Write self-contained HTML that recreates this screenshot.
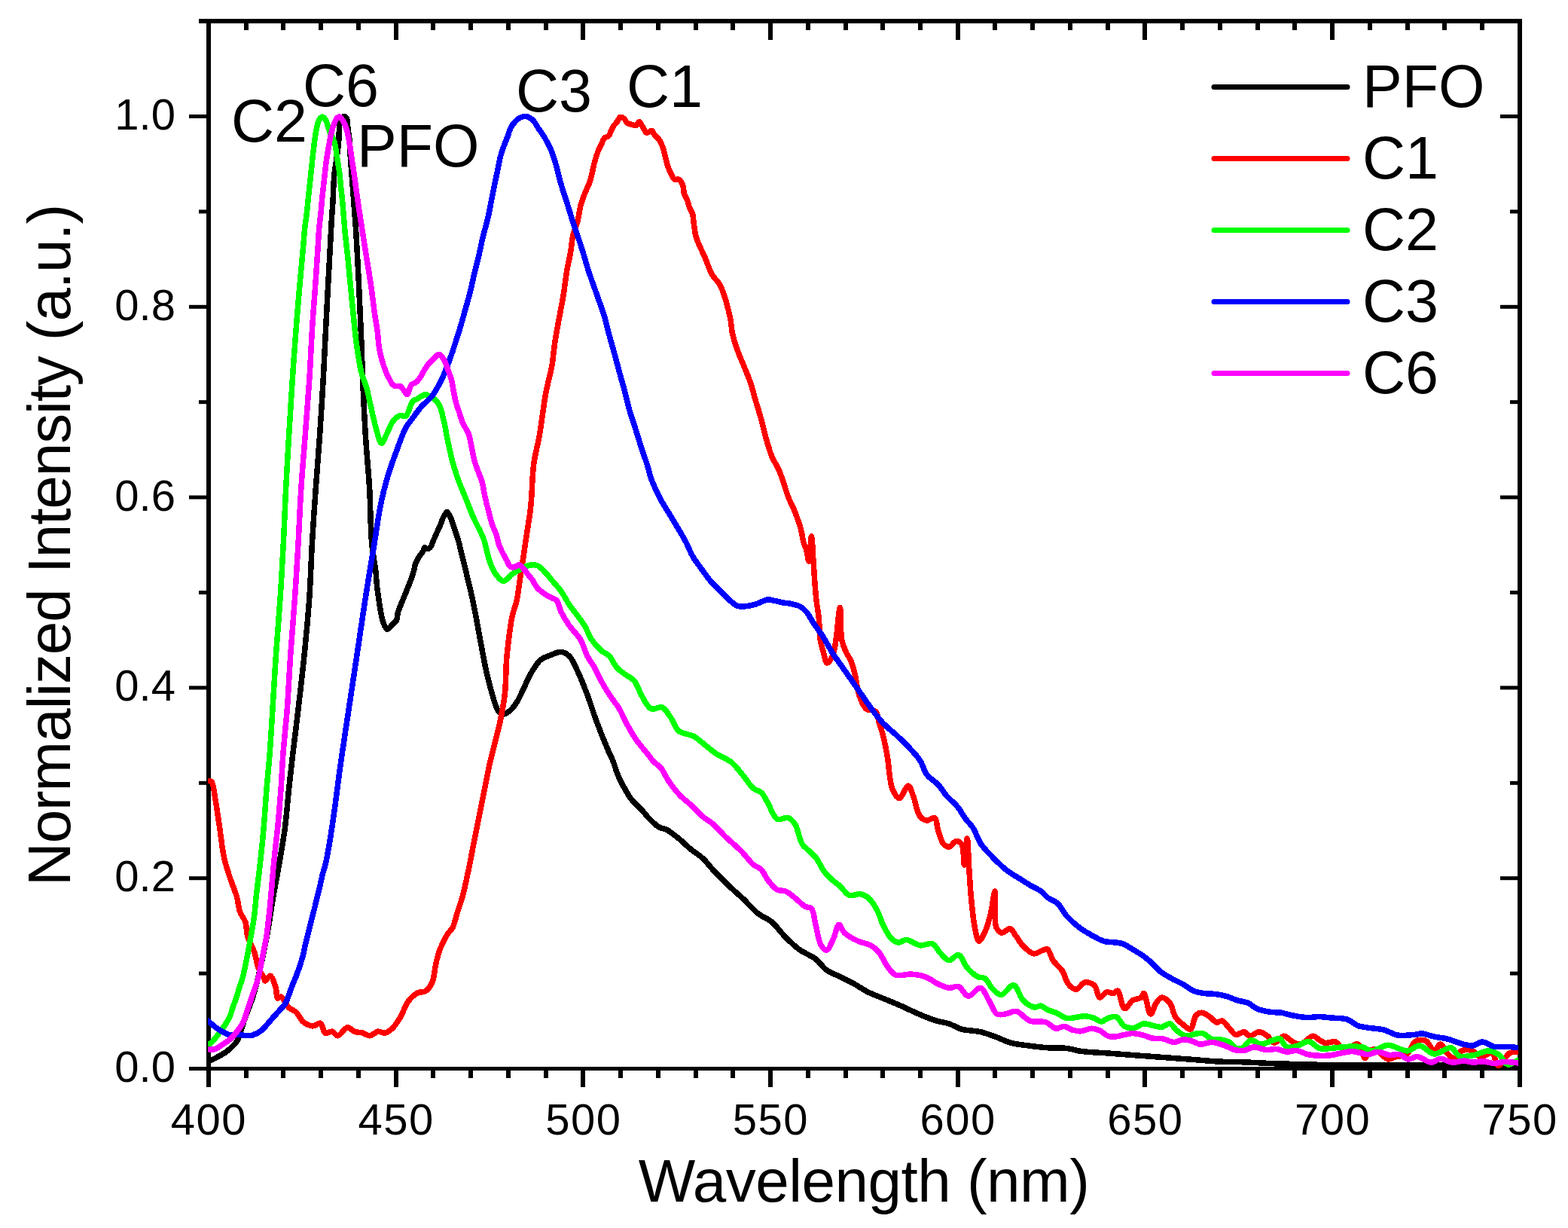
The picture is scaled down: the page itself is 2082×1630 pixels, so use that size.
<!DOCTYPE html>
<html><head><meta charset="utf-8"><title>Normalized PL spectra</title>
<style>html,body{margin:0;padding:0;background:#fff;overflow:hidden}svg{display:block}</style>
</head><body>
<svg xmlns="http://www.w3.org/2000/svg" width="2082" height="1630" viewBox="0 0 2082 1630" font-family="'Liberation Sans', Arial, sans-serif" fill="#000">
<defs><clipPath id="pc"><rect x="276" y="28" width="1740" height="1392"/></clipPath></defs>
<rect width="2082" height="1630" fill="#fff"/>
<g fill="#000">
<rect x="264" y="25" width="1757" height="6"/>
<rect x="251" y="1416" width="1770" height="5"/>
<rect x="274" y="25" width="6" height="1418"/>
<rect x="2015" y="25" width="6" height="1418"/>
<rect x="274" y="1421" width="6" height="22"/>
<rect x="274" y="31" width="6" height="22"/>
<rect x="324" y="1421" width="6" height="10"/>
<rect x="324" y="31" width="6" height="9"/>
<rect x="373" y="1421" width="6" height="10"/>
<rect x="373" y="31" width="6" height="9"/>
<rect x="423" y="1421" width="6" height="10"/>
<rect x="423" y="31" width="6" height="9"/>
<rect x="473" y="1421" width="6" height="10"/>
<rect x="473" y="31" width="6" height="9"/>
<rect x="523" y="1421" width="6" height="22"/>
<rect x="523" y="31" width="6" height="22"/>
<rect x="572" y="1421" width="6" height="10"/>
<rect x="572" y="31" width="6" height="9"/>
<rect x="622" y="1421" width="6" height="10"/>
<rect x="622" y="31" width="6" height="9"/>
<rect x="672" y="1421" width="6" height="10"/>
<rect x="672" y="31" width="6" height="9"/>
<rect x="722" y="1421" width="6" height="10"/>
<rect x="722" y="31" width="6" height="9"/>
<rect x="771" y="1421" width="6" height="22"/>
<rect x="771" y="31" width="6" height="22"/>
<rect x="821" y="1421" width="6" height="10"/>
<rect x="821" y="31" width="6" height="9"/>
<rect x="871" y="1421" width="6" height="10"/>
<rect x="871" y="31" width="6" height="9"/>
<rect x="921" y="1421" width="6" height="10"/>
<rect x="921" y="31" width="6" height="9"/>
<rect x="970" y="1421" width="6" height="10"/>
<rect x="970" y="31" width="6" height="9"/>
<rect x="1020" y="1421" width="6" height="22"/>
<rect x="1020" y="31" width="6" height="22"/>
<rect x="1070" y="1421" width="6" height="10"/>
<rect x="1070" y="31" width="6" height="9"/>
<rect x="1120" y="1421" width="6" height="10"/>
<rect x="1120" y="31" width="6" height="9"/>
<rect x="1169" y="1421" width="6" height="10"/>
<rect x="1169" y="31" width="6" height="9"/>
<rect x="1219" y="1421" width="6" height="10"/>
<rect x="1219" y="31" width="6" height="9"/>
<rect x="1269" y="1421" width="6" height="22"/>
<rect x="1269" y="31" width="6" height="22"/>
<rect x="1318" y="1421" width="6" height="10"/>
<rect x="1318" y="31" width="6" height="9"/>
<rect x="1368" y="1421" width="6" height="10"/>
<rect x="1368" y="31" width="6" height="9"/>
<rect x="1418" y="1421" width="6" height="10"/>
<rect x="1418" y="31" width="6" height="9"/>
<rect x="1468" y="1421" width="6" height="10"/>
<rect x="1468" y="31" width="6" height="9"/>
<rect x="1517" y="1421" width="6" height="22"/>
<rect x="1517" y="31" width="6" height="22"/>
<rect x="1567" y="1421" width="6" height="10"/>
<rect x="1567" y="31" width="6" height="9"/>
<rect x="1617" y="1421" width="6" height="10"/>
<rect x="1617" y="31" width="6" height="9"/>
<rect x="1667" y="1421" width="6" height="10"/>
<rect x="1667" y="31" width="6" height="9"/>
<rect x="1716" y="1421" width="6" height="10"/>
<rect x="1716" y="31" width="6" height="9"/>
<rect x="1766" y="1421" width="6" height="22"/>
<rect x="1766" y="31" width="6" height="22"/>
<rect x="1816" y="1421" width="6" height="10"/>
<rect x="1816" y="31" width="6" height="9"/>
<rect x="1866" y="1421" width="6" height="10"/>
<rect x="1866" y="31" width="6" height="9"/>
<rect x="1915" y="1421" width="6" height="10"/>
<rect x="1915" y="31" width="6" height="9"/>
<rect x="1965" y="1421" width="6" height="10"/>
<rect x="1965" y="31" width="6" height="9"/>
<rect x="2015" y="1421" width="6" height="22"/>
<rect x="2015" y="31" width="6" height="22"/>
<rect x="251" y="1416.0" width="23" height="5"/>
<rect x="1992" y="1416.0" width="23" height="5"/>
<rect x="264" y="1289.6" width="10" height="5"/>
<rect x="2005" y="1289.6" width="10" height="5"/>
<rect x="251" y="1163.2" width="23" height="5"/>
<rect x="1992" y="1163.2" width="23" height="5"/>
<rect x="264" y="1036.8" width="10" height="5"/>
<rect x="2005" y="1036.8" width="10" height="5"/>
<rect x="251" y="910.4" width="23" height="5"/>
<rect x="1992" y="910.4" width="23" height="5"/>
<rect x="264" y="784.0" width="10" height="5"/>
<rect x="2005" y="784.0" width="10" height="5"/>
<rect x="251" y="657.6" width="23" height="5"/>
<rect x="1992" y="657.6" width="23" height="5"/>
<rect x="264" y="531.2" width="10" height="5"/>
<rect x="2005" y="531.2" width="10" height="5"/>
<rect x="251" y="404.8" width="23" height="5"/>
<rect x="1992" y="404.8" width="23" height="5"/>
<rect x="264" y="278.4" width="10" height="5"/>
<rect x="2005" y="278.4" width="10" height="5"/>
<rect x="251" y="152.0" width="23" height="5"/>
<rect x="1992" y="152.0" width="23" height="5"/>
<rect x="264" y="25.6" width="10" height="5"/>
<rect x="2005" y="25.6" width="10" height="5"/>
</g>
<g clip-path="url(#pc)">
<path d="M278.0,1408.5C281.6,1406.7 285.1,1405.1 288.7,1403.1C292.4,1401.1 296.3,1399.0 299.8,1396.5C303.2,1394.1 306.6,1391.2 309.3,1388.4C311.6,1386.0 313.3,1384.5 315.2,1381.0C318.7,1374.7 321.7,1361.4 325.1,1351.9C328.4,1342.7 332.3,1334.0 335.2,1324.9C338.1,1316.0 340.0,1308.5 342.6,1297.9C346.2,1283.1 350.7,1262.0 354.1,1244.0C357.5,1226.0 360.0,1206.9 362.9,1190.0C365.5,1174.9 368.1,1162.0 370.6,1147.2C373.3,1131.4 376.4,1114.6 378.5,1098.2C380.6,1081.9 381.7,1065.5 383.4,1049.1C385.1,1032.7 386.9,1017.1 388.9,1000.0C391.1,981.2 393.7,961.6 396.1,940.8C398.8,917.6 401.8,891.7 404.3,867.2C406.7,842.7 409.1,818.1 410.8,793.6C412.5,769.1 413.1,744.1 414.5,720.0C415.9,696.6 417.4,674.2 419.1,650.8C420.8,626.6 422.9,601.7 424.6,577.2C426.3,552.7 427.8,528.1 429.2,503.6C430.6,479.1 431.7,452.3 432.9,430.0C433.9,411.5 434.6,397.6 435.6,379.2C436.8,357.3 438.6,323.6 439.5,307.1C440.0,298.5 440.2,294.0 440.6,287.4C441.0,280.9 441.6,274.3 442.0,267.8C442.4,261.3 442.4,254.7 442.8,248.2C443.2,241.6 443.5,235.0 444.2,228.5C444.9,221.9 446.3,215.4 447.2,208.9C448.1,202.4 449.1,195.1 449.6,189.3C450.0,184.7 450.0,181.2 450.2,177.0C450.4,172.7 450.3,167.6 451.0,164.0C451.5,161.4 452.1,159.1 453.2,157.5C454.1,156.2 455.6,154.6 456.8,154.6C457.9,154.6 459.4,155.6 460.2,157.0C461.7,159.4 461.3,164.9 461.9,169.6C462.7,175.4 463.8,182.7 464.4,189.3C465.0,195.8 464.9,202.4 465.3,208.9C465.7,215.4 466.3,222.0 466.8,228.5C467.3,235.1 467.8,241.6 468.3,248.2C468.8,254.7 469.3,261.3 469.8,267.8C470.3,274.3 470.7,280.9 471.2,287.4C471.7,294.0 472.2,299.7 472.7,307.1C473.3,316.5 473.9,328.0 474.5,339.3C475.2,351.7 475.9,365.4 476.5,378.5C477.1,391.6 477.7,404.7 478.3,417.8C478.9,430.9 479.5,443.4 480.0,457.0C480.6,471.9 480.9,486.3 481.6,503.6C482.5,525.3 483.8,552.7 485.3,577.2C486.8,601.7 489.4,626.6 490.8,650.8C492.1,674.2 491.8,700.1 493.6,720.0C494.9,735.2 498.1,750.8 499.1,760.0C499.6,764.8 499.6,767.3 499.9,771.0C500.2,774.7 500.5,778.4 501.0,782.1C501.4,785.8 502.1,789.4 502.6,793.1C503.1,796.8 503.6,800.5 504.2,804.2C504.8,807.9 505.3,811.5 506.1,815.2C506.9,818.9 507.6,822.9 509.0,826.3C510.3,829.6 512.0,835.2 514.1,835.5C516.2,835.8 519.6,830.2 521.8,828.0C523.5,826.3 525.2,825.6 526.3,823.6C527.8,820.9 527.5,815.9 528.5,812.5C529.4,809.4 530.5,806.9 531.8,803.7C533.4,799.7 535.6,794.6 537.3,790.4C538.9,786.6 540.2,783.1 541.7,779.4C543.2,775.7 544.8,772.0 546.1,768.3C547.4,764.6 548.5,760.8 549.5,757.3C550.4,754.2 550.6,751.4 551.7,748.5C552.8,745.5 554.4,742.4 556.1,739.6C557.7,736.9 560.3,734.3 561.6,731.9C562.6,730.0 562.9,726.8 563.8,726.6C564.4,726.5 565.0,728.4 566.0,728.6C567.4,728.8 570.1,727.8 571.5,726.4C573.2,724.8 573.7,721.4 574.9,718.7C576.3,715.6 577.7,712.2 579.3,708.7C581.0,704.9 583.1,700.6 584.8,696.6C586.4,692.8 587.6,688.5 589.2,685.5C590.4,683.2 592.3,680.7 593.0,679.8C593.2,679.5 593.3,679.3 593.5,679.3C594.3,679.4 596.6,683.5 597.9,686.1C599.4,689.2 600.5,693.2 601.8,696.9C603.1,700.7 604.5,704.7 605.8,708.7C607.1,712.9 608.6,717.2 609.7,721.5C610.8,725.7 611.6,730.1 612.6,734.2C613.6,738.2 614.6,742.1 615.6,746.0C616.6,749.9 617.5,753.8 618.5,757.8C619.5,762.0 620.5,766.3 621.5,770.5C622.5,774.5 623.4,778.3 624.4,782.3C625.4,786.5 626.3,790.2 627.3,795.0C628.7,801.4 630.2,809.2 631.8,817.5C633.8,827.7 636.0,840.4 638.1,851.8C640.3,863.3 642.2,874.8 644.7,886.2C647.2,897.7 650.3,910.3 653.3,920.5C655.8,928.8 657.9,938.3 661.0,942.9C662.8,945.6 664.7,947.6 667.0,948.0C669.5,948.4 672.8,946.6 675.6,944.6C679.2,942.0 682.7,937.4 685.9,932.6C689.7,926.8 693.0,918.6 696.2,912.0C699.1,906.0 701.1,900.5 704.4,894.8C708.0,888.6 712.4,880.6 717.3,876.4C721.2,873.0 725.7,871.8 730.2,870.0C734.9,868.1 740.4,865.0 744.9,865.4C748.9,865.7 752.6,867.8 755.9,870.9C760.4,875.2 763.4,883.5 767.0,891.1C771.4,900.3 775.8,911.5 779.9,922.4C784.3,934.1 788.1,947.0 792.7,959.2C797.3,971.5 803.5,986.7 807.5,996.0C810.0,1001.8 811.9,1005.0 813.9,1010.0C816.2,1015.7 817.7,1022.3 820.3,1028.4C822.9,1034.6 826.3,1041.1 829.5,1046.8C832.4,1052.1 835.1,1056.9 838.7,1061.5C842.4,1066.2 847.5,1070.0 851.6,1074.4C855.5,1078.6 858.7,1083.3 862.7,1087.3C866.7,1091.3 871.4,1096.0 875.6,1098.3C878.7,1100.0 881.4,1099.4 884.8,1101.1C889.7,1103.5 895.9,1108.8 901.3,1113.1C906.9,1117.6 912.4,1123.4 917.9,1127.8C922.9,1131.8 927.8,1134.4 932.6,1138.8C938.2,1143.9 943.4,1151.1 949.2,1157.2C955.1,1163.4 961.3,1169.5 967.6,1175.6C974.1,1181.8 981.3,1187.8 987.8,1194.0C994.1,1200.1 999.8,1207.3 1006.2,1212.4C1012.1,1217.0 1018.8,1218.9 1024.6,1223.7C1031.1,1229.1 1036.7,1237.6 1042.9,1243.8C1048.8,1249.7 1054.5,1255.4 1061.1,1260.2C1067.8,1265.1 1076.7,1268.1 1083.0,1273.0C1088.7,1277.4 1092.1,1283.6 1097.6,1287.6C1103.1,1291.5 1109.8,1293.6 1115.9,1296.7C1122.0,1299.7 1128.1,1302.6 1134.1,1305.9C1140.3,1309.3 1145.9,1313.5 1152.4,1316.8C1159.3,1320.2 1167.0,1322.9 1174.3,1325.9C1181.6,1329.0 1188.8,1331.8 1196.2,1335.1C1204.0,1338.5 1211.9,1342.6 1219.9,1346.0C1227.7,1349.3 1236.4,1352.9 1243.6,1355.1C1249.5,1356.9 1254.6,1357.0 1260.0,1358.8C1265.6,1360.6 1270.3,1364.3 1276.5,1366.1C1283.9,1368.2 1293.9,1367.8 1302.0,1369.7C1309.7,1371.5 1317.0,1374.5 1323.9,1377.0C1330.3,1379.3 1335.6,1382.5 1342.2,1384.3C1349.5,1386.3 1358.0,1386.9 1365.9,1388.0C1373.8,1389.1 1381.4,1390.1 1389.6,1390.7C1398.3,1391.3 1408.4,1390.5 1416.5,1391.5C1423.2,1392.3 1427.6,1394.3 1434.8,1395.3C1444.8,1396.7 1459.1,1397.1 1471.3,1398.0C1483.5,1398.9 1495.6,1399.9 1507.8,1400.8C1520.0,1401.7 1532.1,1402.6 1544.3,1403.5C1556.5,1404.4 1568.6,1405.3 1580.8,1406.2C1593.0,1407.1 1605.1,1408.4 1617.3,1409.0C1629.5,1409.6 1641.6,1409.5 1653.8,1409.9C1666.0,1410.4 1678.1,1411.2 1690.3,1411.7C1702.5,1412.1 1715.0,1412.3 1726.8,1412.6C1738.0,1412.9 1746.0,1413.3 1759.6,1413.5C1782.3,1413.9 1815.3,1413.9 1850.0,1414.0C1897.0,1414.2 1960.7,1414.3 2016.0,1414.5" fill="none" stroke="#000000" stroke-width="7.5" stroke-linejoin="round" stroke-linecap="round" shape-rendering="crispEdges"/>
<path d="M278.0,1036.7C279.0,1037.0 280.1,1036.6 281.0,1037.6C283.7,1040.6 284.9,1055.3 286.6,1065.2C288.6,1076.6 290.3,1089.7 292.1,1102.0C293.9,1114.3 295.1,1127.5 297.6,1138.8C299.8,1148.8 303.0,1157.8 305.9,1166.6C308.6,1174.8 312.1,1182.4 314.3,1190.0C316.3,1196.9 316.5,1204.3 318.6,1210.2C320.4,1215.3 324.0,1218.6 325.7,1223.7C327.7,1229.6 327.1,1237.4 329.1,1244.0C331.1,1250.9 335.6,1257.4 337.9,1264.2C340.2,1270.8 340.6,1278.5 342.9,1284.4C344.9,1289.5 348.8,1294.7 350.4,1297.9C351.2,1299.6 351.1,1301.8 352.1,1302.0C353.5,1302.3 356.7,1294.8 358.8,1295.2C361.6,1295.7 364.6,1306.1 366.2,1311.4C367.6,1316.0 366.6,1323.8 368.5,1324.9C369.6,1325.6 371.4,1322.7 373.1,1323.2C376.3,1324.2 380.2,1334.5 384.1,1338.0C387.0,1340.7 390.5,1340.9 393.3,1343.5C396.7,1346.6 398.7,1353.2 402.5,1356.3C406.1,1359.2 411.3,1361.8 415.4,1361.9C419.0,1362.0 422.8,1357.1 425.5,1358.2C428.6,1359.4 428.8,1369.6 431.9,1371.1C434.4,1372.3 438.3,1368.6 441.1,1369.2C443.9,1369.8 445.7,1374.9 448.5,1374.8C452.2,1374.7 457.3,1364.0 461.4,1363.7C464.6,1363.4 467.3,1368.0 470.6,1369.2C474.0,1370.5 478.1,1370.1 481.6,1371.1C484.9,1372.0 487.6,1374.9 490.8,1374.8C494.4,1374.6 498.3,1369.7 501.9,1369.2C505.0,1368.8 508.1,1371.6 511.1,1371.1C514.3,1370.6 517.4,1368.3 520.3,1365.6C524.2,1362.1 527.9,1356.4 531.3,1350.8C535.3,1344.3 537.9,1334.5 542.4,1328.7C546.1,1323.9 551.0,1319.7 555.2,1317.7C558.3,1316.2 561.6,1317.6 564.4,1315.9C567.9,1313.8 571.3,1309.7 573.6,1304.8C576.9,1297.9 577.1,1285.4 579.2,1277.2C580.9,1270.4 582.3,1264.8 584.7,1258.8C587.2,1252.6 590.8,1245.4 593.9,1240.4C596.3,1236.6 599.2,1234.7 601.2,1230.8C603.7,1225.9 604.8,1219.1 606.8,1212.8C609.1,1205.6 611.8,1198.3 614.1,1190.0C616.8,1180.2 619.1,1168.8 621.5,1157.6C624.1,1145.6 626.4,1132.8 628.9,1120.4C631.3,1108.1 633.8,1095.9 636.2,1083.6C638.7,1071.3 641.2,1058.7 643.6,1046.8C645.8,1035.7 647.6,1025.5 650.1,1014.4C652.8,1002.5 656.8,987.6 659.3,977.6C661.0,970.7 662.1,967.1 663.6,960.0C665.8,949.5 668.9,934.0 670.4,920.5C671.9,906.5 671.6,890.1 672.5,877.6C673.2,867.9 674.0,861.0 675.1,851.8C676.4,841.2 678.0,827.4 680.2,817.5C681.9,809.7 684.7,803.8 686.2,797.0C687.7,790.4 688.2,783.9 689.2,777.4C690.2,770.9 691.1,764.3 692.1,757.8C693.1,751.2 694.1,744.7 695.1,738.1C696.1,731.6 697.0,725.0 698.0,718.5C699.0,712.0 700.0,705.4 701.0,698.9C702.0,692.4 703.1,685.9 703.9,679.3C704.7,672.8 705.3,666.2 705.8,659.6C706.3,653.1 706.3,647.0 706.8,640.0C707.3,631.9 707.7,623.4 709.0,614.0C710.6,602.8 714.0,590.7 716.4,577.2C719.3,560.7 721.6,538.5 724.7,522.0C727.2,508.4 730.9,496.9 732.9,485.2C734.7,474.7 735.2,465.2 736.7,455.0C738.3,444.5 740.4,433.7 742.3,423.1C744.2,412.5 746.5,401.8 748.2,391.2C749.9,380.6 751.0,369.2 752.7,359.4C754.2,350.8 756.1,343.5 757.5,335.5C758.9,327.6 759.3,318.7 761.0,311.6C762.4,305.7 764.9,301.5 766.5,295.6C768.4,288.5 769.3,278.8 771.3,271.7C772.9,265.8 774.9,261.1 776.9,255.8C779.0,250.4 781.8,245.8 783.7,239.8C786.0,232.7 787.3,223.0 789.3,215.9C790.9,210.0 792.6,204.5 794.4,200.0C795.8,196.5 797.3,193.9 798.7,191.0C800.0,188.3 800.8,185.0 802.6,183.2C804.2,181.6 807.0,181.8 808.5,180.2C810.0,178.6 810.3,175.6 811.4,173.4C812.5,171.1 813.9,168.6 815.3,166.5C816.6,164.7 818.0,163.3 819.3,161.6C820.7,159.8 821.5,156.3 823.2,155.7C824.8,155.2 827.6,156.5 829.1,157.7C830.5,158.8 830.7,161.5 832.0,162.6C833.1,163.6 834.6,163.9 836.0,164.5C837.5,165.1 839.3,165.7 840.9,166.0C842.3,166.3 843.6,167.0 844.8,166.5C846.3,165.9 847.5,161.6 848.7,161.6C849.8,161.6 850.7,164.1 851.7,165.5C852.7,167.0 853.5,168.7 854.6,170.4C855.8,172.3 857.1,175.8 858.5,176.3C859.4,176.6 860.4,175.7 861.5,175.3C862.7,174.8 864.2,173.1 865.4,173.4C866.9,173.8 867.8,177.5 869.3,179.3C870.8,181.1 872.8,182.3 874.2,184.2C875.7,186.2 877.1,188.6 878.2,191.0C879.4,193.5 880.2,196.0 881.1,198.9C882.2,202.4 883.0,206.9 884.0,210.7C885.0,214.4 885.8,218.1 887.0,221.5C888.1,224.6 889.4,227.5 890.9,230.3C892.4,233.1 893.7,237.0 895.8,238.2C897.5,239.1 900.0,237.3 901.7,238.2C903.8,239.4 905.5,243.0 906.6,246.0C907.9,249.4 907.5,254.3 908.6,257.8C909.6,260.7 911.4,262.8 912.5,265.6C913.7,268.7 914.3,272.4 915.5,275.5C916.6,278.3 918.5,280.2 919.4,283.3C920.6,287.2 920.6,292.2 921.3,297.1C922.2,302.6 922.4,308.4 924.3,314.8C926.8,323.1 932.6,333.7 936.3,342.4C939.6,350.2 941.8,358.1 945.5,364.5C948.7,370.1 953.2,372.7 956.5,379.2C961.6,389.1 966.4,408.0 969.2,420.0C971.3,429.3 971.0,436.7 973.0,445.0C975.0,453.4 978.6,463.2 981.1,470.0C982.9,474.9 984.3,477.5 986.3,482.4C989.1,489.3 993.4,499.0 996.3,507.4C999.1,515.7 1001.1,524.1 1003.5,532.4C1006.0,540.7 1008.7,549.0 1011.0,557.4C1013.3,565.7 1014.9,574.0 1017.3,582.3C1019.7,590.7 1022.5,600.5 1025.4,607.3C1027.6,612.3 1030.2,615.6 1032.3,619.8C1034.3,623.9 1035.7,627.3 1037.6,632.4C1040.4,639.8 1043.6,651.8 1046.8,660.0C1049.5,666.8 1052.5,671.8 1055.1,678.4C1058.0,685.8 1061.4,695.0 1063.4,702.4C1065.1,708.7 1065.6,715.0 1067.0,720.0C1068.1,723.8 1069.6,726.3 1070.7,730.0C1072.0,734.5 1073.0,745.1 1074.0,745.0C1075.4,744.9 1076.5,712.0 1077.5,712.0C1078.5,712.0 1079.4,736.8 1080.0,745.0C1080.4,749.9 1080.4,751.8 1080.8,756.8C1081.4,765.7 1082.4,782.2 1083.6,793.6C1084.6,803.5 1086.4,812.0 1087.3,821.2C1088.2,830.4 1087.8,840.6 1089.1,848.8C1090.2,855.6 1092.0,861.6 1093.7,867.2C1095.1,871.9 1096.2,879.9 1098.3,880.1C1100.5,880.4 1104.3,873.4 1106.6,867.2C1111.3,854.7 1113.5,806.4 1115.3,806.5C1116.8,806.6 1115.5,837.7 1117.7,848.8C1119.2,856.3 1121.8,862.2 1124.1,867.2C1125.8,870.9 1128.0,872.7 1129.6,876.4C1131.8,881.4 1133.4,888.0 1135.1,894.8C1137.2,903.0 1137.9,914.3 1140.7,922.4C1143.1,929.3 1145.6,937.2 1149.9,940.8C1153.4,943.7 1159.8,941.7 1162.7,944.5C1165.8,947.5 1165.7,954.0 1167.3,959.2C1169.1,965.0 1171.2,970.8 1172.9,977.6C1175.0,985.8 1176.6,995.0 1178.4,1005.2C1180.6,1017.6 1180.9,1037.2 1184.8,1046.8C1187.2,1052.7 1190.7,1059.7 1194.0,1059.7C1197.7,1059.7 1202.8,1042.8 1206.0,1043.1C1208.7,1043.3 1210.3,1050.8 1212.4,1056.0C1215.4,1063.4 1217.3,1078.2 1221.6,1083.6C1224.2,1086.9 1227.6,1088.8 1230.8,1089.1C1234.0,1089.4 1238.6,1084.2 1241.0,1085.5C1244.1,1087.1 1243.7,1096.4 1245.6,1102.0C1247.6,1108.0 1249.6,1116.8 1252.9,1120.4C1255.0,1122.7 1257.8,1124.4 1260.3,1124.1C1263.3,1123.8 1266.5,1117.0 1269.5,1116.7C1272.0,1116.4 1275.0,1117.8 1276.8,1120.4C1280.1,1125.1 1279.3,1148.0 1280.5,1148.0C1281.8,1148.0 1283.2,1113.1 1284.2,1113.1C1285.4,1113.1 1286.0,1143.2 1287.0,1157.2C1287.9,1170.0 1288.5,1181.7 1289.7,1194.0C1290.9,1206.3 1292.2,1220.7 1294.3,1230.8C1295.8,1238.1 1297.3,1248.8 1299.8,1249.2C1302.0,1249.5 1305.7,1241.5 1308.1,1236.4C1311.2,1229.8 1313.4,1220.9 1315.5,1212.4C1317.8,1203.2 1319.8,1182.9 1321.0,1183.0C1322.6,1183.1 1319.0,1222.1 1322.8,1230.8C1324.6,1234.9 1327.3,1237.7 1330.2,1238.2C1333.4,1238.7 1338.1,1232.0 1341.2,1232.7C1344.2,1233.4 1346.0,1238.5 1348.6,1241.9C1351.6,1245.8 1354.0,1250.9 1357.8,1254.8C1361.9,1259.0 1367.6,1265.1 1372.5,1265.8C1376.8,1266.4 1381.9,1261.9 1385.4,1261.0C1387.6,1260.4 1389.3,1259.3 1391.0,1260.2C1393.9,1261.7 1395.2,1270.1 1398.3,1274.8C1401.7,1279.9 1407.6,1284.1 1411.0,1289.4C1414.2,1294.5 1414.9,1301.8 1418.3,1305.9C1421.2,1309.4 1425.7,1313.4 1429.3,1313.2C1433.0,1313.0 1436.2,1304.9 1440.2,1304.0C1444.1,1303.2 1449.7,1304.9 1453.0,1307.7C1456.8,1311.0 1457.1,1323.3 1460.3,1324.1C1462.9,1324.7 1466.2,1317.6 1469.4,1316.8C1472.3,1316.1 1476.0,1319.1 1478.6,1318.6C1480.7,1318.2 1482.3,1314.5 1484.0,1315.0C1487.4,1316.1 1489.2,1337.9 1493.2,1338.7C1496.3,1339.4 1500.1,1330.2 1504.1,1327.8C1507.5,1325.7 1512.6,1326.0 1515.1,1324.1C1517.0,1322.7 1517.4,1318.4 1518.7,1318.6C1521.4,1318.9 1524.7,1345.8 1527.8,1346.0C1530.2,1346.2 1532.3,1335.3 1535.1,1331.4C1537.3,1328.3 1539.6,1324.4 1542.4,1324.1C1545.6,1323.8 1550.5,1327.8 1553.4,1331.4C1557.0,1335.8 1557.4,1344.7 1560.7,1349.7C1563.6,1354.2 1567.9,1357.7 1571.6,1360.6C1574.6,1363.0 1578.3,1367.0 1580.8,1366.1C1584.2,1364.9 1584.8,1351.3 1588.1,1347.8C1590.2,1345.5 1592.7,1344.2 1595.4,1344.2C1598.7,1344.2 1602.9,1347.5 1606.3,1349.7C1609.6,1351.8 1612.4,1356.4 1615.4,1357.0C1617.8,1357.5 1620.3,1354.5 1622.7,1355.1C1625.8,1356.0 1628.8,1361.2 1631.9,1364.3C1634.9,1367.3 1637.5,1372.6 1641.0,1373.4C1644.3,1374.2 1648.8,1369.2 1652.0,1369.7C1654.8,1370.2 1656.4,1374.9 1659.3,1375.2C1662.8,1375.6 1667.9,1369.6 1672.0,1369.7C1675.8,1369.8 1679.7,1372.8 1683.0,1375.2C1686.4,1377.6 1688.7,1384.0 1692.1,1384.3C1695.9,1384.6 1700.8,1375.3 1704.9,1375.2C1708.7,1375.1 1712.0,1380.6 1715.8,1382.5C1719.3,1384.2 1722.9,1386.7 1726.8,1386.2C1731.9,1385.5 1738.5,1375.3 1743.2,1375.2C1746.6,1375.1 1749.4,1379.1 1752.3,1380.7C1754.8,1382.1 1756.7,1383.8 1759.6,1384.3C1763.4,1385.0 1769.3,1381.6 1773.4,1383.0C1777.7,1384.5 1780.1,1392.7 1784.6,1393.5C1789.7,1394.4 1798.1,1384.1 1802.7,1385.8C1807.5,1387.5 1809.6,1404.5 1812.4,1404.6C1814.5,1404.6 1815.4,1396.7 1818.0,1394.9C1820.3,1393.3 1823.3,1392.7 1826.4,1393.5C1831.2,1394.7 1838.3,1405.2 1843.1,1406.0C1846.2,1406.5 1848.1,1404.2 1851.4,1403.2C1856.0,1401.9 1863.6,1402.2 1868.2,1399.0C1873.1,1395.5 1874.6,1385.0 1879.3,1382.3C1883.2,1380.1 1889.2,1379.9 1893.2,1381.6C1897.7,1383.6 1900.9,1394.8 1904.4,1394.9C1907.3,1395.0 1910.0,1385.6 1912.7,1385.8C1915.6,1386.0 1917.9,1394.5 1921.1,1397.7C1924.0,1400.6 1927.7,1404.9 1930.8,1404.6C1934.2,1404.3 1936.6,1396.6 1940.6,1394.9C1944.8,1393.2 1951.6,1393.3 1955.9,1394.9C1959.8,1396.3 1961.8,1402.5 1965.7,1403.2C1970.0,1404.0 1977.1,1396.1 1981.0,1397.7C1985.2,1399.4 1985.6,1413.9 1989.3,1414.4C1993.3,1415.0 1999.5,1400.4 2004.7,1397.7C2008.4,1395.8 2012.2,1396.8 2016.0,1396.3" fill="none" stroke="#ff0000" stroke-width="7.5" stroke-linejoin="round" stroke-linecap="round" shape-rendering="crispEdges"/>
<path d="M278.5,1385.5C279.3,1384.9 280.0,1384.5 281.0,1383.6C282.9,1381.7 285.8,1378.2 288.7,1374.4C293.1,1368.6 300.7,1358.5 304.2,1351.5C306.8,1346.2 307.6,1341.7 309.3,1336.8C311.0,1331.9 312.9,1327.0 314.5,1322.1C316.1,1317.2 317.6,1311.5 318.9,1307.4C319.8,1304.5 320.6,1303.3 321.5,1300.0C323.4,1293.5 326.1,1280.4 328.0,1270.9C329.8,1261.8 331.3,1253.0 332.9,1244.0C334.5,1235.0 336.3,1226.0 337.5,1217.0C338.7,1208.0 339.1,1200.0 340.2,1190.0C341.6,1177.4 343.7,1162.0 345.3,1147.2C347.0,1131.4 348.8,1114.6 350.2,1098.2C351.6,1081.9 352.6,1065.5 353.9,1049.1C355.2,1032.7 356.9,1017.1 358.2,1000.0C359.6,981.2 360.7,961.6 362.0,940.8C363.5,917.6 364.9,891.7 366.6,867.2C368.3,842.7 370.5,818.1 372.1,793.6C373.7,769.1 375.2,744.2 376.4,720.0C377.6,696.6 378.3,674.2 379.5,650.8C380.7,626.6 382.2,601.7 383.7,577.2C385.2,552.7 386.7,528.0 388.3,503.6C389.9,479.6 391.8,454.0 393.5,432.0C395.0,413.1 396.4,396.8 397.9,379.2C399.4,361.7 401.5,340.6 402.7,326.8C403.5,317.9 403.7,312.1 404.5,304.7C405.3,297.3 406.5,290.0 407.4,282.6C408.2,275.2 408.8,267.9 409.6,260.5C410.4,253.1 411.2,245.8 412.0,238.4C412.8,231.0 413.5,223.7 414.3,216.3C415.1,208.9 415.9,201.5 416.8,194.2C417.7,187.1 418.8,178.9 419.9,173.1C420.7,168.9 421.4,165.4 422.4,162.5C423.1,160.4 423.7,158.6 424.8,157.3C425.7,156.2 426.9,155.0 428.0,155.0C429.1,155.0 430.3,156.2 431.2,157.3C432.3,158.6 433.0,160.4 433.8,162.5C434.9,165.4 435.6,169.2 437.0,173.0C438.8,177.9 442.5,183.5 444.2,189.3C446.0,195.4 446.4,202.4 447.5,208.9C448.6,215.4 449.7,221.9 450.6,228.5C451.5,235.0 452.0,241.6 452.7,248.2C453.4,254.7 454.1,261.3 454.7,267.8C455.3,274.3 455.9,280.9 456.4,287.4C457.0,294.0 457.3,299.7 458.0,307.1C458.9,316.5 460.4,328.0 461.6,339.3C462.9,351.7 464.0,365.4 465.3,378.5C466.6,391.6 467.8,404.7 469.2,417.8C470.5,430.9 471.6,444.1 473.4,457.0C475.2,469.6 477.2,484.2 479.8,494.4C481.7,501.7 484.2,506.0 486.2,512.8C488.6,521.0 490.5,531.2 492.7,540.4C494.8,549.6 496.6,559.6 499.1,568.0C501.3,575.4 503.9,588.1 506.5,588.3C508.5,588.5 510.6,581.4 512.9,577.2C515.8,571.9 518.5,563.3 522.1,558.8C524.8,555.4 528.2,552.4 531.3,551.5C533.8,550.8 536.5,553.6 538.7,552.4C542.5,550.3 544.5,536.7 547.9,533.0C549.9,530.8 551.9,530.7 554.3,529.4C557.3,527.8 561.1,524.1 564.4,523.9C567.5,523.7 570.7,525.6 573.6,527.5C576.9,529.7 580.4,532.6 582.8,536.7C586.1,542.2 587.4,551.0 589.3,558.8C591.4,567.4 592.8,577.2 594.8,586.4C596.8,595.6 599.0,605.8 601.2,614.0C603.0,620.8 604.5,625.7 606.8,632.4C609.7,640.7 614.1,650.8 617.8,660.0C621.5,669.2 624.9,678.5 628.9,687.6C633.0,696.8 638.4,705.3 642.0,715.0C645.8,725.2 647.7,739.0 651.0,747.6C653.3,753.6 655.3,758.2 658.4,762.3C661.2,766.0 665.0,771.4 668.5,771.5C672.1,771.6 676.0,764.9 679.6,762.3C682.7,760.1 685.6,758.6 688.8,756.8C692.1,754.9 695.1,752.4 698.9,751.3C703.0,750.1 708.5,749.0 712.7,750.4C717.2,751.9 721.1,756.9 724.7,760.5C728.1,763.9 730.7,767.7 733.9,771.5C737.4,775.6 741.4,779.6 744.9,784.4C748.8,789.8 752.1,797.1 755.9,802.8C759.5,808.1 763.5,812.7 767.0,817.5C770.2,821.9 773.3,825.6 776.2,830.4C779.5,835.9 781.7,843.2 785.4,848.8C789.1,854.2 793.9,859.6 798.3,863.5C801.9,866.7 806.1,867.6 809.3,870.9C813.0,874.7 814.9,881.5 818.5,885.6C821.7,889.3 825.6,891.8 829.5,894.8C833.6,897.9 838.9,899.9 842.4,904.0C846.4,908.7 848.0,916.4 851.6,922.4C855.3,928.7 859.2,938.5 864.5,940.8C868.8,942.7 875.0,937.4 879.2,939.0C883.7,940.7 886.8,947.1 890.3,951.9C894.2,957.3 896.1,966.0 901.3,970.3C906.5,974.6 915.4,974.2 921.6,977.6C927.7,981.0 932.7,986.4 938.1,990.5C943.1,994.4 947.5,998.2 952.8,1001.6C958.5,1005.3 965.7,1007.4 971.2,1011.8C976.8,1016.3 981.2,1022.7 986.0,1028.4C991.0,1034.3 995.8,1042.8 1000.7,1046.8C1004.1,1049.6 1008.0,1049.3 1010.9,1052.0C1014.3,1055.1 1016.2,1060.2 1019.2,1065.2C1023.1,1071.6 1026.6,1084.6 1032.1,1087.3C1036.3,1089.4 1042.7,1084.1 1046.8,1085.5C1050.6,1086.8 1053.3,1090.5 1056.0,1094.7C1059.9,1100.8 1061.3,1114.3 1065.2,1120.4C1067.9,1124.6 1071.3,1126.5 1074.4,1129.6C1077.5,1132.7 1080.6,1135.0 1083.6,1138.8C1087.4,1143.7 1090.5,1151.8 1094.7,1157.2C1098.6,1162.1 1103.7,1166.8 1107.5,1170.1C1110.2,1172.4 1112.2,1173.3 1114.9,1175.6C1118.7,1178.9 1122.9,1186.8 1127.8,1188.5C1132.2,1190.0 1138.1,1185.9 1142.5,1186.7C1146.5,1187.4 1150.1,1189.3 1153.5,1192.2C1157.9,1196.0 1161.9,1203.2 1165.1,1209.1C1168.2,1214.9 1169.4,1221.4 1172.4,1227.4C1175.5,1233.6 1179.4,1241.6 1183.4,1245.6C1186.3,1248.5 1189.2,1250.7 1192.5,1251.1C1195.9,1251.5 1199.4,1247.4 1203.5,1247.5C1208.8,1247.7 1215.7,1254.0 1221.7,1254.8C1227.2,1255.5 1233.5,1251.1 1238.1,1252.9C1242.7,1254.7 1245.3,1261.9 1249.1,1265.7C1252.6,1269.2 1256.1,1274.5 1260.0,1274.8C1264.0,1275.2 1269.0,1266.6 1272.8,1267.5C1277.2,1268.5 1279.5,1279.1 1283.8,1284.0C1288.0,1288.8 1293.8,1294.4 1298.4,1296.7C1301.6,1298.3 1304.6,1296.8 1307.5,1298.6C1311.5,1301.1 1314.5,1309.4 1318.5,1313.2C1321.9,1316.4 1325.5,1320.6 1329.4,1320.5C1334.4,1320.3 1341.0,1306.9 1345.8,1307.7C1350.9,1308.6 1353.5,1322.8 1358.6,1327.8C1362.9,1332.1 1368.8,1336.1 1373.2,1336.9C1376.5,1337.5 1379.4,1334.6 1382.3,1335.1C1385.3,1335.7 1387.8,1339.0 1391.0,1340.5C1394.3,1342.1 1398.1,1342.6 1401.9,1344.2C1406.5,1346.1 1411.9,1350.6 1416.5,1351.5C1420.3,1352.2 1423.7,1351.0 1427.5,1350.6C1431.6,1350.1 1436.0,1348.6 1440.2,1348.7C1444.5,1348.8 1449.2,1350.1 1453.0,1351.5C1456.4,1352.7 1459.1,1356.1 1462.1,1356.1C1465.2,1356.1 1468.0,1352.6 1471.3,1351.5C1474.7,1350.4 1478.9,1348.5 1482.2,1349.7C1486.3,1351.2 1488.9,1360.0 1493.2,1362.4C1497.0,1364.5 1501.7,1364.8 1505.9,1364.3C1510.2,1363.7 1514.4,1359.2 1518.7,1358.8C1522.9,1358.4 1527.4,1360.7 1531.5,1361.5C1535.3,1362.2 1538.8,1363.8 1542.4,1363.4C1546.1,1363.0 1550.1,1358.1 1553.4,1358.8C1556.8,1359.5 1559.0,1365.2 1562.5,1367.9C1566.2,1370.8 1571.1,1374.6 1575.3,1375.2C1579.0,1375.7 1582.5,1373.1 1586.2,1372.5C1589.8,1371.9 1593.7,1370.7 1597.2,1371.6C1601.0,1372.6 1604.1,1377.5 1608.1,1378.9C1612.0,1380.2 1616.7,1378.9 1620.9,1379.8C1625.2,1380.7 1630.2,1382.1 1633.7,1384.3C1636.7,1386.2 1638.2,1390.6 1641.0,1391.6C1643.7,1392.6 1647.1,1392.0 1650.1,1390.7C1653.9,1389.0 1657.1,1381.4 1661.1,1380.7C1665.0,1380.0 1669.3,1386.0 1673.9,1386.2C1679.0,1386.4 1685.6,1381.9 1690.3,1380.7C1693.7,1379.8 1696.6,1377.9 1699.4,1378.9C1702.8,1380.1 1704.6,1388.3 1708.5,1389.8C1712.5,1391.4 1718.3,1389.2 1723.1,1388.0C1728.0,1386.8 1732.9,1382.0 1737.7,1382.5C1742.7,1383.0 1747.1,1390.2 1752.3,1391.6C1757.2,1393.0 1762.3,1391.7 1767.9,1391.4C1774.4,1391.0 1781.8,1389.5 1788.8,1389.3C1795.7,1389.1 1803.8,1388.7 1809.6,1390.0C1814.0,1391.0 1816.4,1394.7 1820.8,1394.9C1826.9,1395.1 1836.4,1387.3 1843.1,1387.2C1848.7,1387.1 1853.7,1390.8 1858.4,1392.1C1862.4,1393.2 1865.6,1395.3 1869.5,1394.9C1874.3,1394.5 1879.5,1387.7 1884.9,1387.9C1891.1,1388.2 1897.5,1398.4 1904.4,1399.0C1911.5,1399.6 1920.9,1389.4 1926.7,1390.7C1931.4,1391.7 1933.1,1400.0 1937.8,1401.8C1943.0,1403.8 1950.9,1401.5 1957.3,1400.4C1963.9,1399.3 1970.9,1394.6 1976.8,1394.9C1981.9,1395.2 1986.6,1397.5 1990.7,1400.4C1995.0,1403.4 1997.5,1412.0 2001.9,1413.0C2006.0,1414.0 2011.3,1409.3 2016.0,1407.4" fill="none" stroke="#00ff00" stroke-width="7.5" stroke-linejoin="round" stroke-linecap="round" shape-rendering="crispEdges"/>
<path d="M276.5,1355.2C279.3,1357.7 281.9,1360.2 285.0,1362.6C288.4,1365.2 292.5,1368.1 296.1,1370.0C299.1,1371.6 301.8,1373.1 304.9,1373.6C308.1,1374.1 311.8,1372.8 315.2,1372.9C318.6,1373.0 322.2,1374.2 325.5,1374.4C328.5,1374.6 331.0,1375.1 334.0,1374.4C337.9,1373.5 343.3,1370.6 346.7,1368.1C349.5,1366.1 351.1,1363.8 353.4,1361.3C356.0,1358.5 358.8,1355.0 361.5,1351.9C364.3,1348.7 367.2,1345.6 370.0,1342.4C372.9,1339.1 376.1,1336.5 378.6,1332.4C381.6,1327.4 383.9,1319.1 385.9,1314.0C387.4,1310.3 388.3,1307.5 389.6,1304.4C390.8,1301.4 391.9,1299.4 393.3,1295.6C395.8,1288.9 400.7,1274.3 402.5,1267.6C403.5,1263.9 403.4,1262.7 404.3,1258.8C406.1,1250.7 410.4,1234.3 413.5,1222.0C416.6,1209.7 419.9,1196.6 422.7,1185.2C425.1,1175.2 427.4,1163.9 429.2,1157.2C430.2,1153.4 431.0,1151.9 431.9,1148.4C433.2,1143.4 434.2,1137.5 435.6,1130.0C437.8,1118.1 440.5,1100.6 443.0,1083.6C446.0,1062.8 448.9,1037.8 452.2,1014.4C455.6,990.2 459.5,965.3 463.2,940.8C466.9,916.3 470.6,891.7 474.3,867.2C478.0,842.7 481.5,818.1 485.3,793.6C489.1,769.1 493.7,742.3 497.3,720.0C500.3,701.5 502.4,684.7 505.6,669.2C508.3,655.9 511.2,644.6 514.8,632.4C518.5,620.1 523.4,606.9 527.6,595.6C531.3,585.7 534.7,575.3 538.7,568.0C541.6,562.7 544.7,559.5 547.9,555.1C551.4,550.3 554.8,545.2 558.9,540.4C563.3,535.3 569.2,531.4 573.6,525.7C578.5,519.3 582.6,511.5 586.5,503.6C590.7,495.1 594.2,485.3 597.6,476.0C601.0,466.9 604.4,455.7 606.8,448.4C608.4,443.6 609.2,441.0 610.6,436.3C612.6,429.6 615.3,420.0 617.6,411.8C619.9,403.6 622.3,395.4 624.4,387.2C626.4,379.0 628.0,370.9 629.9,362.7C631.8,354.5 634.1,346.4 636.0,338.2C637.9,330.0 639.5,321.8 641.5,313.6C643.5,305.4 646.0,297.3 647.9,289.1C649.8,280.9 651.2,272.7 652.8,264.5C654.4,256.3 656.6,245.2 657.7,240.0C658.2,237.5 658.4,236.7 658.9,234.5C659.6,231.0 660.8,225.5 661.7,221.0C662.7,216.5 663.4,212.0 664.6,207.5C665.8,203.0 667.4,198.5 669.0,194.0C670.6,189.5 672.8,184.7 674.3,180.5C675.6,176.9 676.2,173.5 677.8,170.4C679.4,167.2 681.6,164.0 683.9,161.6C685.9,159.4 688.0,157.4 690.6,156.2C693.2,155.0 696.7,154.0 699.5,154.6C702.5,155.2 705.7,157.7 708.2,160.2C710.9,162.9 712.6,167.0 714.9,170.4C717.2,173.8 719.7,176.8 722.0,180.5C724.5,184.6 727.3,190.4 729.1,194.0C730.3,196.4 730.9,197.3 732.0,200.0C734.0,204.8 737.2,215.1 738.9,221.0C740.1,225.2 740.5,227.9 741.5,231.9C742.8,236.8 744.4,242.7 746.0,248.0C747.6,253.3 749.1,257.5 751.1,263.7C753.9,272.5 757.6,285.0 761.0,295.6C764.5,306.3 768.4,316.8 771.8,327.5C775.2,338.1 778.0,348.8 781.4,359.4C784.9,370.0 788.9,380.9 792.5,391.2C795.9,401.0 799.7,410.7 802.5,420.0C805.1,428.6 806.8,436.7 809.0,445.0C811.3,453.3 813.7,461.7 816.0,470.0C818.3,478.3 820.4,486.6 822.7,494.9C825.0,503.2 827.5,511.6 829.7,519.9C831.9,528.2 833.6,536.6 836.0,544.9C838.4,553.3 841.4,561.6 844.0,569.9C846.6,578.2 849.1,586.5 851.8,594.8C854.5,603.1 858.1,612.9 860.2,619.8C861.7,624.7 861.9,627.5 863.6,632.4C866.2,639.9 871.0,650.9 875.6,660.0C880.4,669.4 886.4,678.0 892.1,687.6C898.2,698.0 906.1,710.6 911.0,720.0C914.6,726.9 916.2,732.4 919.7,738.4C923.4,744.7 928.4,751.0 932.6,756.8C936.4,762.0 939.6,766.9 943.6,771.5C947.6,776.1 952.2,780.1 956.5,784.4C960.8,788.7 965.1,793.8 969.4,797.3C973.1,800.3 976.1,803.5 980.4,804.7C985.2,806.0 992.3,804.5 997.0,803.7C1000.6,803.1 1002.9,802.1 1006.2,801.0C1010.2,799.7 1015.0,796.4 1019.2,796.0C1023.0,795.6 1026.6,797.1 1030.2,797.8C1033.6,798.5 1037.0,799.5 1040.0,800.0C1042.5,800.4 1044.1,800.3 1046.8,800.8C1050.8,801.6 1057.4,802.6 1061.5,804.7C1065.1,806.5 1067.9,808.8 1070.7,812.0C1074.1,815.8 1076.5,821.6 1079.9,826.7C1083.8,832.5 1088.6,838.6 1092.8,845.1C1097.2,852.0 1101.3,860.3 1105.7,867.2C1109.9,873.7 1114.3,879.5 1118.6,885.6C1122.9,891.7 1127.2,897.9 1131.5,904.0C1135.8,910.1 1140.0,916.3 1144.3,922.4C1148.6,928.5 1152.7,934.7 1157.2,940.8C1161.8,947.0 1166.3,953.3 1171.9,959.2C1177.9,965.6 1185.7,971.4 1192.2,977.6C1198.6,983.7 1205.3,990.2 1210.6,996.0C1215.0,1000.9 1218.7,1004.8 1222.0,1010.0C1225.5,1015.5 1226.8,1023.2 1230.8,1028.4C1234.7,1033.6 1241.2,1036.6 1245.6,1041.3C1249.8,1045.8 1252.5,1051.2 1256.6,1056.0C1261.0,1061.1 1267.0,1065.4 1271.3,1070.7C1275.5,1075.9 1278.7,1082.4 1282.4,1087.3C1285.5,1091.4 1288.7,1093.8 1291.6,1098.3C1295.5,1104.2 1298.3,1114.0 1302.6,1120.4C1306.4,1126.1 1311.1,1130.4 1315.5,1135.1C1319.7,1139.6 1324.2,1144.1 1328.4,1148.0C1332.1,1151.4 1335.4,1154.3 1339.4,1157.2C1343.8,1160.4 1349.2,1163.3 1354.1,1166.4C1359.0,1169.5 1364.0,1172.7 1368.9,1175.6C1373.6,1178.4 1379.1,1180.6 1383.0,1183.5C1386.2,1185.9 1387.8,1189.0 1391.0,1191.4C1394.6,1194.1 1400.0,1195.2 1403.9,1198.7C1408.6,1202.9 1411.7,1210.7 1416.5,1216.0C1421.4,1221.4 1427.4,1226.8 1432.9,1231.0C1437.7,1234.7 1442.3,1237.3 1447.5,1240.2C1453.2,1243.4 1459.7,1247.5 1465.8,1249.3C1471.3,1250.9 1477.5,1250.4 1482.2,1251.1C1485.7,1251.6 1488.1,1251.7 1491.3,1252.9C1495.3,1254.4 1499.7,1257.6 1504.1,1260.2C1508.8,1263.0 1514.3,1266.2 1518.7,1269.4C1522.7,1272.3 1526.1,1275.2 1529.7,1278.5C1533.4,1281.9 1536.5,1286.1 1540.6,1289.4C1544.9,1292.9 1550.3,1295.8 1555.2,1298.6C1560.0,1301.3 1565.0,1303.2 1569.8,1305.9C1574.7,1308.7 1579.4,1312.9 1584.4,1315.0C1589.1,1317.0 1594.1,1317.9 1599.0,1318.6C1603.8,1319.3 1608.8,1318.9 1613.6,1319.5C1618.5,1320.1 1623.4,1320.9 1628.2,1322.3C1633.1,1323.7 1637.9,1326.3 1642.8,1327.8C1647.6,1329.3 1653.0,1329.5 1657.4,1331.4C1661.5,1333.2 1664.1,1336.8 1668.4,1338.7C1673.5,1341.0 1680.8,1342.4 1686.6,1343.3C1691.7,1344.1 1696.4,1343.5 1701.2,1344.2C1706.1,1344.9 1710.5,1346.8 1715.8,1347.8C1721.9,1349.0 1729.7,1350.4 1735.9,1350.6C1741.3,1350.8 1745.9,1349.6 1751.1,1349.6C1756.6,1349.6 1762.0,1350.5 1767.9,1351.0C1774.5,1351.6 1782.7,1351.1 1788.8,1353.1C1794.1,1354.9 1797.9,1359.5 1802.7,1361.4C1807.2,1363.1 1811.5,1363.3 1816.6,1364.2C1822.8,1365.2 1830.9,1365.3 1837.5,1367.0C1843.9,1368.6 1849.0,1372.9 1855.6,1374.0C1862.9,1375.2 1873.4,1373.9 1879.3,1373.3C1882.8,1373.0 1884.4,1371.8 1887.7,1371.9C1892.3,1372.1 1898.8,1374.9 1904.4,1376.1C1909.9,1377.2 1915.3,1377.4 1921.1,1378.8C1927.7,1380.4 1935.7,1384.3 1942.0,1385.8C1947.0,1387.0 1951.5,1388.4 1955.9,1387.9C1960.2,1387.4 1964.0,1383.0 1968.4,1383.0C1973.3,1383.0 1978.5,1388.2 1983.8,1389.3C1989.2,1390.4 1995.0,1389.1 2000.5,1389.3C2005.8,1389.5 2010.8,1390.2 2016.0,1390.7" fill="none" stroke="#0000ff" stroke-width="7.5" stroke-linejoin="round" stroke-linecap="round" shape-rendering="crispEdges"/>
<path d="M278.4,1393.1C280.6,1393.0 282.6,1393.5 285.0,1392.8C288.3,1391.8 292.5,1388.6 296.1,1386.2C299.8,1383.7 303.9,1381.1 307.1,1378.1C310.2,1375.2 312.7,1371.9 315.2,1368.5C317.8,1365.0 320.5,1361.6 322.6,1357.4C325.0,1352.5 326.6,1346.0 328.5,1340.5C330.3,1335.2 331.8,1330.9 333.8,1325.0C336.4,1317.2 340.5,1307.0 342.9,1297.9C345.3,1289.0 346.5,1279.9 348.3,1270.9C350.1,1261.9 352.2,1253.0 353.7,1244.0C355.1,1235.0 356.0,1226.0 357.0,1217.0C358.0,1208.0 358.8,1200.0 359.7,1190.0C360.9,1177.4 362.0,1161.9 363.4,1147.2C364.9,1131.4 367.1,1114.6 368.7,1098.2C370.3,1081.9 371.7,1065.5 372.9,1049.1C374.1,1032.7 374.7,1017.1 376.0,1000.0C377.4,981.2 379.7,961.6 381.3,940.8C383.1,917.6 384.2,891.7 385.9,867.2C387.6,842.7 389.8,818.1 391.5,793.6C393.2,769.1 394.7,744.2 396.1,720.0C397.4,696.6 398.2,674.2 399.7,650.8C401.2,626.6 403.4,601.7 405.3,577.2C407.1,552.7 409.2,528.0 410.8,503.6C412.4,479.6 413.4,454.0 414.8,432.0C416.0,413.1 417.5,396.8 418.7,379.2C419.9,361.7 421.3,340.6 422.2,326.8C422.8,317.9 423.0,312.1 423.6,304.7C424.2,297.3 425.3,290.0 426.0,282.6C426.7,275.2 427.3,267.9 428.0,260.5C428.8,253.1 429.7,245.8 430.5,238.4C431.3,231.0 432.0,223.7 433.0,216.3C434.0,208.9 435.2,201.6 436.5,194.2C437.8,186.8 439.4,177.9 441.0,172.1C442.1,168.1 443.3,165.0 444.5,162.3C445.4,160.2 446.1,158.3 447.2,157.0C448.0,156.0 449.0,154.8 450.0,154.8C451.0,154.8 452.0,155.6 453.0,156.8C455.1,159.1 457.8,164.8 459.5,169.6C461.6,175.3 462.7,182.7 463.9,189.3C465.1,195.8 465.8,202.4 466.8,208.9C467.8,215.4 468.9,222.0 469.8,228.5C470.8,235.1 471.6,241.6 472.5,248.2C473.4,254.7 474.3,261.3 475.2,267.8C476.2,274.3 477.2,280.9 478.2,287.4C479.2,294.0 480.1,299.7 481.2,307.1C482.7,316.5 484.5,328.0 486.3,339.3C488.3,351.7 490.6,365.4 492.5,378.5C494.4,391.6 496.1,406.6 497.7,417.8C498.9,426.3 500.3,432.8 501.2,440.0C502.1,446.7 502.3,453.6 503.2,459.6C504.0,464.9 505.0,469.9 506.1,474.3C507.0,478.0 508.0,480.8 509.1,484.2C510.3,487.7 511.6,491.7 513.0,495.0C514.2,497.9 515.6,500.3 516.9,502.8C518.2,505.2 519.3,508.0 520.8,509.7C522.0,511.0 523.2,512.1 524.8,512.6C526.7,513.2 529.7,511.7 531.6,512.6C533.6,513.6 535.0,516.6 536.5,518.5C537.9,520.2 539.2,523.6 540.5,523.4C542.5,523.2 543.8,513.5 546.4,510.7C548.3,508.7 551.1,508.6 553.0,507.0C555.0,505.3 556.5,503.1 558.1,500.8C559.9,498.2 561.3,494.8 563.0,492.0C564.6,489.3 566.1,486.6 568.0,484.2C569.8,481.9 571.9,480.1 574.0,478.0C576.2,475.8 578.8,472.6 580.7,471.4C581.8,470.7 582.6,470.2 583.6,470.4C585.0,470.7 586.7,473.1 588.0,475.0C589.7,477.4 591.2,481.0 592.5,484.2C593.8,487.4 594.8,490.7 596.0,494.0C597.1,497.3 598.4,500.2 599.4,503.8C600.5,508.1 601.1,513.2 602.0,518.0C603.0,523.0 603.9,528.2 605.2,533.2C606.5,538.2 608.4,543.1 610.0,548.0C611.6,552.9 613.0,558.1 615.0,562.7C617.0,567.2 619.8,569.8 621.9,575.4C625.4,584.6 627.3,602.5 630.7,614.0C633.5,623.6 637.8,631.9 640.1,640.0C642.0,646.9 642.5,653.1 644.0,659.6C645.5,666.2 647.2,672.9 648.9,679.3C650.5,685.3 652.0,691.7 653.8,696.9C655.3,701.3 657.3,704.5 658.7,708.7C660.3,713.3 661.1,718.9 662.7,723.4C664.1,727.3 665.9,730.8 667.6,734.2C669.2,737.3 670.9,740.1 672.5,743.0C674.1,746.0 675.4,750.4 677.4,751.9C678.8,753.0 680.6,753.1 682.3,752.9C684.4,752.7 687.1,749.6 689.2,749.9C691.3,750.2 693.2,752.8 695.1,754.8C697.4,757.2 699.8,761.0 701.9,763.6C703.6,765.8 705.2,767.2 706.8,769.5C708.8,772.3 710.3,776.5 712.7,779.4C715.2,782.4 718.4,784.9 721.5,787.2C724.6,789.5 728.3,791.4 731.4,793.1C734.1,794.6 737.1,794.7 739.2,797.0C742.0,800.1 742.4,806.9 744.9,812.0C747.8,817.9 751.7,824.4 755.9,830.4C760.3,836.7 766.7,842.1 770.7,848.8C774.7,855.6 776.5,864.4 779.9,870.9C782.8,876.4 786.2,880.3 789.1,885.6C792.3,891.3 795.0,897.9 798.3,904.0C801.7,910.2 805.4,916.3 809.3,922.4C813.3,928.6 818.5,934.5 822.2,940.8C825.8,946.8 828.0,952.8 831.4,959.2C835.2,966.3 839.6,974.4 844.3,981.3C848.8,987.9 854.7,994.3 859.0,999.7C862.4,1003.9 864.8,1007.7 868.0,1011.0C871.0,1014.1 874.4,1015.6 877.4,1019.2C881.3,1023.9 884.2,1031.6 888.4,1037.6C892.8,1043.9 898.0,1050.6 903.2,1056.0C907.9,1060.9 913.1,1064.4 917.9,1068.9C922.9,1073.6 927.7,1079.4 932.6,1083.6C936.9,1087.2 941.0,1089.0 945.5,1092.8C951.3,1097.7 957.6,1105.1 963.9,1111.2C970.4,1117.4 977.8,1123.3 984.1,1129.6C990.1,1135.6 995.7,1143.9 1000.7,1148.0C1004.0,1150.7 1007.1,1150.7 1010.0,1153.5C1014.0,1157.3 1017.1,1165.3 1021.0,1170.1C1024.5,1174.3 1028.1,1179.0 1032.1,1181.1C1035.5,1182.9 1039.5,1181.5 1043.1,1183.0C1047.4,1184.8 1051.8,1188.9 1056.0,1192.2C1060.4,1195.6 1064.8,1200.9 1068.9,1203.2C1071.9,1204.9 1075.3,1203.7 1077.5,1206.0C1080.9,1209.7 1081.0,1219.8 1083.0,1227.4C1085.2,1236.0 1086.8,1249.2 1090.3,1254.8C1092.4,1258.1 1095.3,1261.5 1097.6,1261.1C1100.8,1260.6 1104.0,1251.1 1106.7,1245.6C1109.5,1239.9 1111.3,1227.7 1114.0,1227.4C1116.2,1227.2 1117.8,1235.0 1121.3,1238.3C1125.7,1242.5 1133.5,1246.5 1139.6,1249.3C1145.1,1251.8 1151.3,1252.2 1156.0,1254.8C1160.3,1257.2 1163.6,1260.0 1167.0,1263.9C1171.1,1268.7 1174.0,1276.8 1177.9,1282.1C1181.3,1286.7 1184.0,1292.0 1188.9,1294.0C1194.6,1296.3 1203.9,1292.6 1210.8,1293.1C1217.2,1293.6 1223.3,1294.6 1229.0,1296.7C1234.8,1298.8 1240.0,1303.4 1245.4,1305.9C1250.3,1308.2 1255.2,1310.8 1260.0,1311.3C1264.3,1311.8 1268.8,1308.2 1272.8,1309.5C1277.5,1311.1 1280.9,1321.8 1285.6,1322.3C1290.6,1322.8 1297.4,1310.4 1302.0,1311.3C1306.6,1312.2 1309.4,1322.1 1313.0,1327.8C1316.7,1333.7 1319.4,1343.5 1323.9,1346.0C1327.1,1347.8 1331.0,1346.5 1334.9,1346.0C1339.5,1345.4 1344.6,1341.5 1349.5,1342.4C1355.5,1343.5 1361.0,1352.7 1367.7,1355.1C1374.3,1357.5 1383.1,1354.9 1389.1,1357.0C1394.2,1358.7 1397.6,1364.5 1401.9,1365.2C1405.6,1365.8 1409.3,1362.1 1412.9,1362.4C1416.6,1362.7 1420.1,1365.9 1423.8,1367.0C1427.4,1368.0 1430.9,1369.0 1434.8,1368.8C1439.3,1368.6 1444.9,1365.2 1449.4,1365.2C1453.3,1365.2 1456.8,1366.4 1460.3,1367.9C1464.1,1369.6 1467.6,1373.9 1471.3,1375.2C1474.3,1376.3 1477.1,1376.3 1480.4,1376.1C1484.3,1375.9 1489.1,1374.2 1493.2,1373.4C1497.0,1372.7 1500.2,1371.6 1504.1,1371.6C1508.6,1371.6 1514.2,1373.1 1518.7,1374.3C1522.7,1375.3 1525.7,1377.2 1529.7,1378.0C1534.2,1378.9 1539.5,1378.0 1544.3,1378.9C1549.2,1379.8 1554.2,1383.3 1558.9,1383.4C1563.3,1383.4 1567.3,1379.9 1571.6,1379.8C1575.8,1379.7 1580.5,1381.3 1584.4,1382.5C1587.7,1383.5 1590.0,1385.8 1593.5,1386.2C1598.1,1386.7 1604.5,1383.1 1610.0,1383.4C1615.5,1383.7 1621.3,1386.2 1626.4,1388.0C1631.0,1389.6 1634.8,1392.4 1639.2,1393.5C1643.4,1394.5 1647.8,1395.0 1652.0,1394.4C1656.3,1393.8 1660.2,1390.1 1664.7,1389.8C1669.8,1389.5 1675.8,1393.1 1681.1,1393.5C1686.1,1393.9 1691.0,1392.1 1695.7,1392.6C1700.1,1393.1 1704.2,1395.9 1708.5,1396.2C1712.7,1396.5 1716.8,1394.0 1721.3,1394.4C1726.5,1394.9 1731.5,1398.7 1737.7,1399.9C1745.3,1401.3 1755.8,1401.6 1763.7,1401.1C1770.3,1400.6 1776.2,1398.7 1781.8,1397.7C1786.7,1396.9 1790.6,1395.5 1795.7,1395.6C1802.0,1395.7 1810.5,1399.9 1816.6,1399.7C1821.3,1399.5 1824.7,1396.3 1829.1,1396.3C1834.0,1396.3 1839.5,1399.9 1844.5,1400.4C1849.2,1400.9 1854.2,1398.7 1858.4,1399.7C1862.5,1400.7 1865.6,1405.5 1869.5,1406.0C1873.5,1406.5 1877.6,1402.2 1882.1,1402.5C1887.6,1402.9 1894.7,1410.1 1900.2,1410.2C1904.7,1410.3 1908.3,1405.4 1912.7,1405.3C1917.5,1405.1 1922.7,1409.7 1928.0,1410.2C1933.4,1410.7 1939.8,1407.9 1944.8,1408.1C1948.9,1408.2 1952.0,1410.0 1955.9,1410.2C1960.3,1410.4 1965.2,1408.6 1969.8,1408.8C1974.5,1409.0 1979.1,1411.5 1983.8,1411.6C1988.4,1411.7 1992.7,1409.7 1997.7,1409.5C2003.4,1409.3 2009.9,1410.4 2016.0,1410.9" fill="none" stroke="#ff00ff" stroke-width="7.5" stroke-linejoin="round" stroke-linecap="round" shape-rendering="crispEdges"/>
</g>
<text x="233" y="1436.0" text-anchor="end" font-size="58" letter-spacing="0">0.0</text>
<text x="233" y="1183.2" text-anchor="end" font-size="58" letter-spacing="0">0.2</text>
<text x="233" y="930.4" text-anchor="end" font-size="58" letter-spacing="0">0.4</text>
<text x="233" y="677.6" text-anchor="end" font-size="58" letter-spacing="0">0.6</text>
<text x="233" y="424.8" text-anchor="end" font-size="58" letter-spacing="0">0.8</text>
<text x="233" y="172.0" text-anchor="end" font-size="58" letter-spacing="0">1.0</text>
<text x="277.5" y="1506" text-anchor="middle" font-size="58" letter-spacing="1.5">400</text>
<text x="526.2" y="1506" text-anchor="middle" font-size="58" letter-spacing="1.5">450</text>
<text x="774.9" y="1506" text-anchor="middle" font-size="58" letter-spacing="1.5">500</text>
<text x="1023.5" y="1506" text-anchor="middle" font-size="58" letter-spacing="1.5">550</text>
<text x="1272.2" y="1506" text-anchor="middle" font-size="58" letter-spacing="1.5">600</text>
<text x="1520.9" y="1506" text-anchor="middle" font-size="58" letter-spacing="1.5">650</text>
<text x="1769.6" y="1506" text-anchor="middle" font-size="58" letter-spacing="1.5">700</text>
<text x="2018.2" y="1506" text-anchor="middle" font-size="58" letter-spacing="1.5">750</text>
<text x="1147" y="1595" text-anchor="middle" font-size="80" letter-spacing="-0.5">Wavelength (nm)</text>
<text transform="translate(93,724) rotate(-90)" x="0" y="0" text-anchor="middle" font-size="80" letter-spacing="-1.1">Normalized Intensity (a.u.)</text>
<text x="307" y="188" font-size="79">C2</text>
<text x="402" y="141" font-size="79">C6</text>
<text x="474" y="221" font-size="79">PFO</text>
<text x="685" y="148" font-size="79">C3</text>
<text x="832" y="142" font-size="79">C1</text>
<line x1="1612" y1="115.5" x2="1789" y2="115.5" stroke="#000000" stroke-width="7" stroke-linecap="round"/>
<text x="1809" y="142.0" font-size="79">PFO</text>
<line x1="1612" y1="210.5" x2="1789" y2="210.5" stroke="#ff0000" stroke-width="7" stroke-linecap="round"/>
<text x="1809" y="237.0" font-size="79">C1</text>
<line x1="1612" y1="305.5" x2="1789" y2="305.5" stroke="#00ff00" stroke-width="7" stroke-linecap="round"/>
<text x="1809" y="332.0" font-size="79">C2</text>
<line x1="1612" y1="400.5" x2="1789" y2="400.5" stroke="#0000ff" stroke-width="7" stroke-linecap="round"/>
<text x="1809" y="427.0" font-size="79">C3</text>
<line x1="1612" y1="495.5" x2="1789" y2="495.5" stroke="#ff00ff" stroke-width="7" stroke-linecap="round"/>
<text x="1809" y="522.0" font-size="79">C6</text>
</svg>
</body></html>
